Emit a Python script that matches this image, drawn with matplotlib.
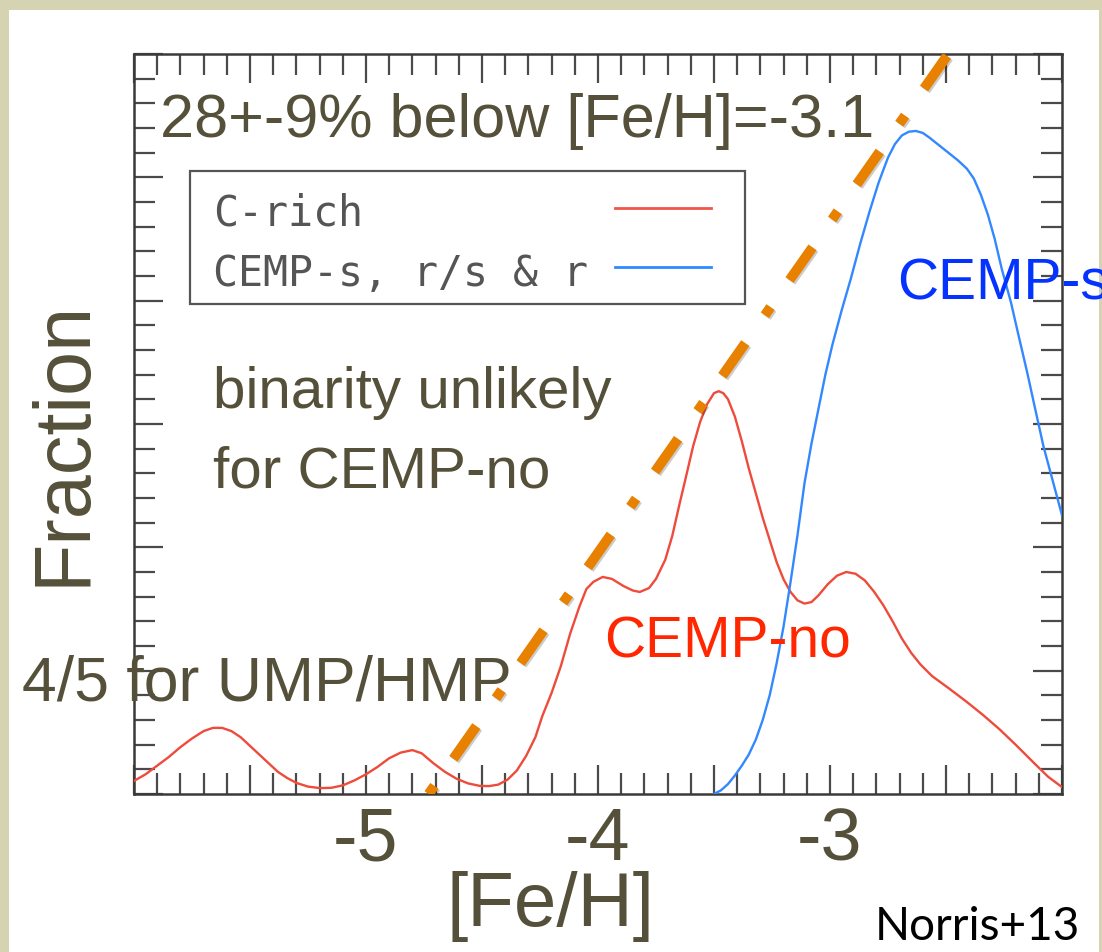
import matplotlib
matplotlib.use("Agg")
import matplotlib.pyplot as plt
import matplotlib.patheffects as pe
from matplotlib.patches import Rectangle
from matplotlib.ticker import MultipleLocator

plt.rcParams["axes.unicode_minus"] = False
plt.rcParams["font.family"] = ["Liberation Sans", "DejaVu Sans"]

# C-rich (CEMP-no dominated) metallicity distribution
crich_feh = [-6.00, -5.95, -5.90, -5.85, -5.80, -5.75, -5.70, -5.66, -5.62, -5.58,
             -5.54, -5.50, -5.46, -5.42, -5.38, -5.34, -5.30, -5.25, -5.20, -5.15,
             -5.10, -5.05, -5.00, -4.95, -4.90, -4.85, -4.80, -4.76, -4.71, -4.66,
             -4.61, -4.56, -4.51, -4.47, -4.43, -4.39, -4.35, -4.31, -4.27, -4.24,
             -4.20, -4.16, -4.12, -4.08, -4.05, -4.02, -3.98, -3.94, -3.89, -3.85,
             -3.82, -3.78, -3.75, -3.71, -3.68, -3.65, -3.62, -3.59, -3.56, -3.53,
             -3.50, -3.48, -3.46, -3.44, -3.41, -3.38, -3.35, -3.32, -3.29, -3.26,
             -3.23, -3.20, -3.17, -3.14, -3.11, -3.08, -3.05, -3.01, -2.97, -2.93,
             -2.89, -2.85, -2.81, -2.77, -2.73, -2.69, -2.65, -2.61, -2.56, -2.49,
             -2.41, -2.34, -2.27, -2.20, -2.12, -2.06, -2.00]
crich_frac = [0.0053, 0.0080, 0.0115, 0.0150, 0.0190, 0.0225, 0.0255, 0.0268, 0.0268, 0.0255,
              0.0230, 0.0195, 0.0160, 0.0125, 0.0090, 0.0065, 0.0045, 0.0030, 0.0024, 0.0025,
              0.0035, 0.0055, 0.0080, 0.0110, 0.0145, 0.0168, 0.0178, 0.0165, 0.0125, 0.0090,
              0.0062, 0.0043, 0.0033, 0.0032, 0.0038, 0.0058, 0.0095, 0.0154, 0.0230, 0.0316,
              0.0410, 0.0519, 0.0650, 0.0760, 0.0831, 0.0860, 0.0880, 0.0872, 0.0843, 0.0825,
              0.0819, 0.0835, 0.0872, 0.0950, 0.1046, 0.1170, 0.1289, 0.1410, 0.1508, 0.1580,
              0.1625, 0.1633, 0.1625, 0.1601, 0.1530, 0.1430, 0.1320, 0.1220, 0.1120, 0.1030,
              0.0940, 0.0870, 0.0819, 0.0785, 0.0772, 0.0778, 0.0805, 0.0850, 0.0885, 0.0900,
              0.0893, 0.0866, 0.0820, 0.0765, 0.0700, 0.0630, 0.0572, 0.0525, 0.0478, 0.0430,
              0.0373, 0.0320, 0.0263, 0.0200, 0.0125, 0.0070, 0.0028]

# CEMP-s, r/s & r
cemps_feh = [-3.50, -3.47, -3.44, -3.41, -3.38, -3.35, -3.32, -3.29, -3.26, -3.23,
             -3.20, -3.17, -3.14, -3.11, -3.08, -3.05, -3.02, -2.99, -2.95, -2.91,
             -2.87, -2.83, -2.79, -2.75, -2.72, -2.69, -2.66, -2.63, -2.60, -2.57,
             -2.53, -2.49, -2.45, -2.41, -2.38, -2.35, -2.32, -2.29, -2.26, -2.22,
             -2.19, -2.15, -2.12, -2.08, -2.04, -2.00]
cemps_frac = [0.0, 0.0015, 0.0040, 0.0075, 0.0115, 0.0160, 0.0220, 0.0300, 0.0400, 0.0530,
              0.0680, 0.0860, 0.1050, 0.1260, 0.1420, 0.1560, 0.1700, 0.1820, 0.1960, 0.2090,
              0.2230, 0.2360, 0.2480, 0.2580, 0.2635, 0.2670, 0.2685, 0.2688, 0.2680, 0.2660,
              0.2630, 0.2600, 0.2570, 0.2535, 0.2495, 0.2430, 0.2350, 0.2250, 0.2130, 0.1993,
              0.1870, 0.1709, 0.1580, 0.1410, 0.1270, 0.1130]

# dash-dot dividing line
cut_feh = [-4.73, -2.49]
cut_frac = [0.0, 0.3]

xticks = [-5, -4, -3]
xtick_labels = ["-5", "-4", "-3"]

W, H = 1102, 953
TEXT = "#55503A"
RED_TXT = "#FF2600"
BLUE_TXT = "#0433FF"


def fxy(px, py):
    # figure pixel -> figure fraction
    return px / W, 1 - py / H


fig = plt.figure(figsize=(W / 100, H / 100), dpi=100)
fig.patch.set_facecolor("#D5D3B2")
fig.patches.append(Rectangle(fxy(9, 953), (1099 - 9) / W, (953 - 11) / H,
                             transform=fig.transFigure, facecolor="white",
                             edgecolor="none", zorder=-5))

ax = fig.add_axes([134 / W, 1 - 795 / H, 928 / W, 740 / H])
ax.patch.set_alpha(0)
ax.set_xlim(-6, -2)
ax.set_ylim(0, 0.3)


def axy(px, py):
    # figure pixel -> axes fraction
    return (px - 134) / 928, (795 - py) / 740


ax.plot(crich_feh, crich_frac, color="#EE4B3B", lw=1.7, zorder=3)
ax.plot(cemps_feh, cemps_frac, color="#3388FF", lw=1.7, zorder=3)

ax.plot(cut_feh, cut_frac, color="#E88000", lw=7.2, solid_capstyle="butt",
        dash_capstyle="butt", linestyle=(0, (1.0, 3.3, 4.0, 3.4)), zorder=4,
        path_effects=[pe.SimpleLineShadow(offset=(1.2, -1.2), alpha=0.2,
                                          shadow_color="black"), pe.Normal()])

for sp in ax.spines.values():
    sp.set_color("#3a3a3a")
    sp.set_linewidth(1.8)

ax.xaxis.set_major_locator(MultipleLocator(0.5))
ax.xaxis.set_minor_locator(MultipleLocator(0.1))
ax.yaxis.set_major_locator(MultipleLocator(0.05))
ax.yaxis.set_minor_locator(MultipleLocator(0.01))
ax.tick_params(which="both", direction="in", top=True, right=True,
               color="#4a4a4a", width=1.6)
ax.tick_params(which="major", length=21)
ax.tick_params(which="minor", length=15)
ax.tick_params(axis="y", labelleft=False)
ax.tick_params(axis="x", labelsize=53, labelcolor=TEXT, pad=8)
ax.xaxis.set_major_formatter(plt.FuncFormatter(
    lambda v, _: xtick_labels[xticks.index(round(v, 2))] if round(v, 2) in xticks else ""))

ax.set_xlabel("[Fe/H]", fontsize=55, color=TEXT)
ax.xaxis.set_label_coords(*axy(551, 926))
ax.xaxis.label.set_va("baseline")
ax.set_ylabel("Fraction", fontsize=57, color=TEXT)
ax.yaxis.set_label_coords(*axy(64, 443))
ax.yaxis.label.set_va("center")

# legend box, drawn by hand to copy the IDL layout
ax.add_patch(Rectangle(axy(190, 305), (745 - 190) / 928, (305 - 172) / 740,
                       transform=ax.transAxes, facecolor="white",
                       edgecolor="#555555", lw=1.6, zorder=5))
leg_font = dict(family="DejaVu Sans Mono", fontsize=30, color="#555555",
                transform=ax.transAxes, va="baseline", zorder=6)
ax.text(*axy(213, 226), "C-rich", **leg_font)
ax.text(*axy(213, 286), "CEMP-s, r/s & r", **leg_font)
for py, col in [(209, "#F05545"), (268, "#2C8CFF")]:
    x0, y0 = axy(615, py)
    x1, _ = axy(711, py)
    ax.plot([x0, x1], [y0, y0], color=col, lw=2.0, transform=ax.transAxes, zorder=6)

big = dict(color=TEXT, va="baseline")
fig.text(*fxy(160, 137), "28+-9% below [Fe/H]=-3.1", fontsize=44, **big)
fig.text(*fxy(213, 408), "binarity unlikely", fontsize=42, **big)
fig.text(*fxy(213, 488), "for CEMP-no", fontsize=42, **big)
fig.text(*fxy(22, 701), "4/5 for UMP/HMP", fontsize=45, **big)
fig.text(*fxy(604, 658), "CEMP-no", fontsize=41, color=RED_TXT, va="baseline")
fig.text(*fxy(897, 300), "CEMP-s", fontsize=41, color=BLUE_TXT, va="baseline")
fig.text(*fxy(875, 940), "Norris+13", fontsize=33, color="black", va="baseline",
         family=["Lato", "DejaVu Sans"])

fig.savefig("out.png", dpi=100)
